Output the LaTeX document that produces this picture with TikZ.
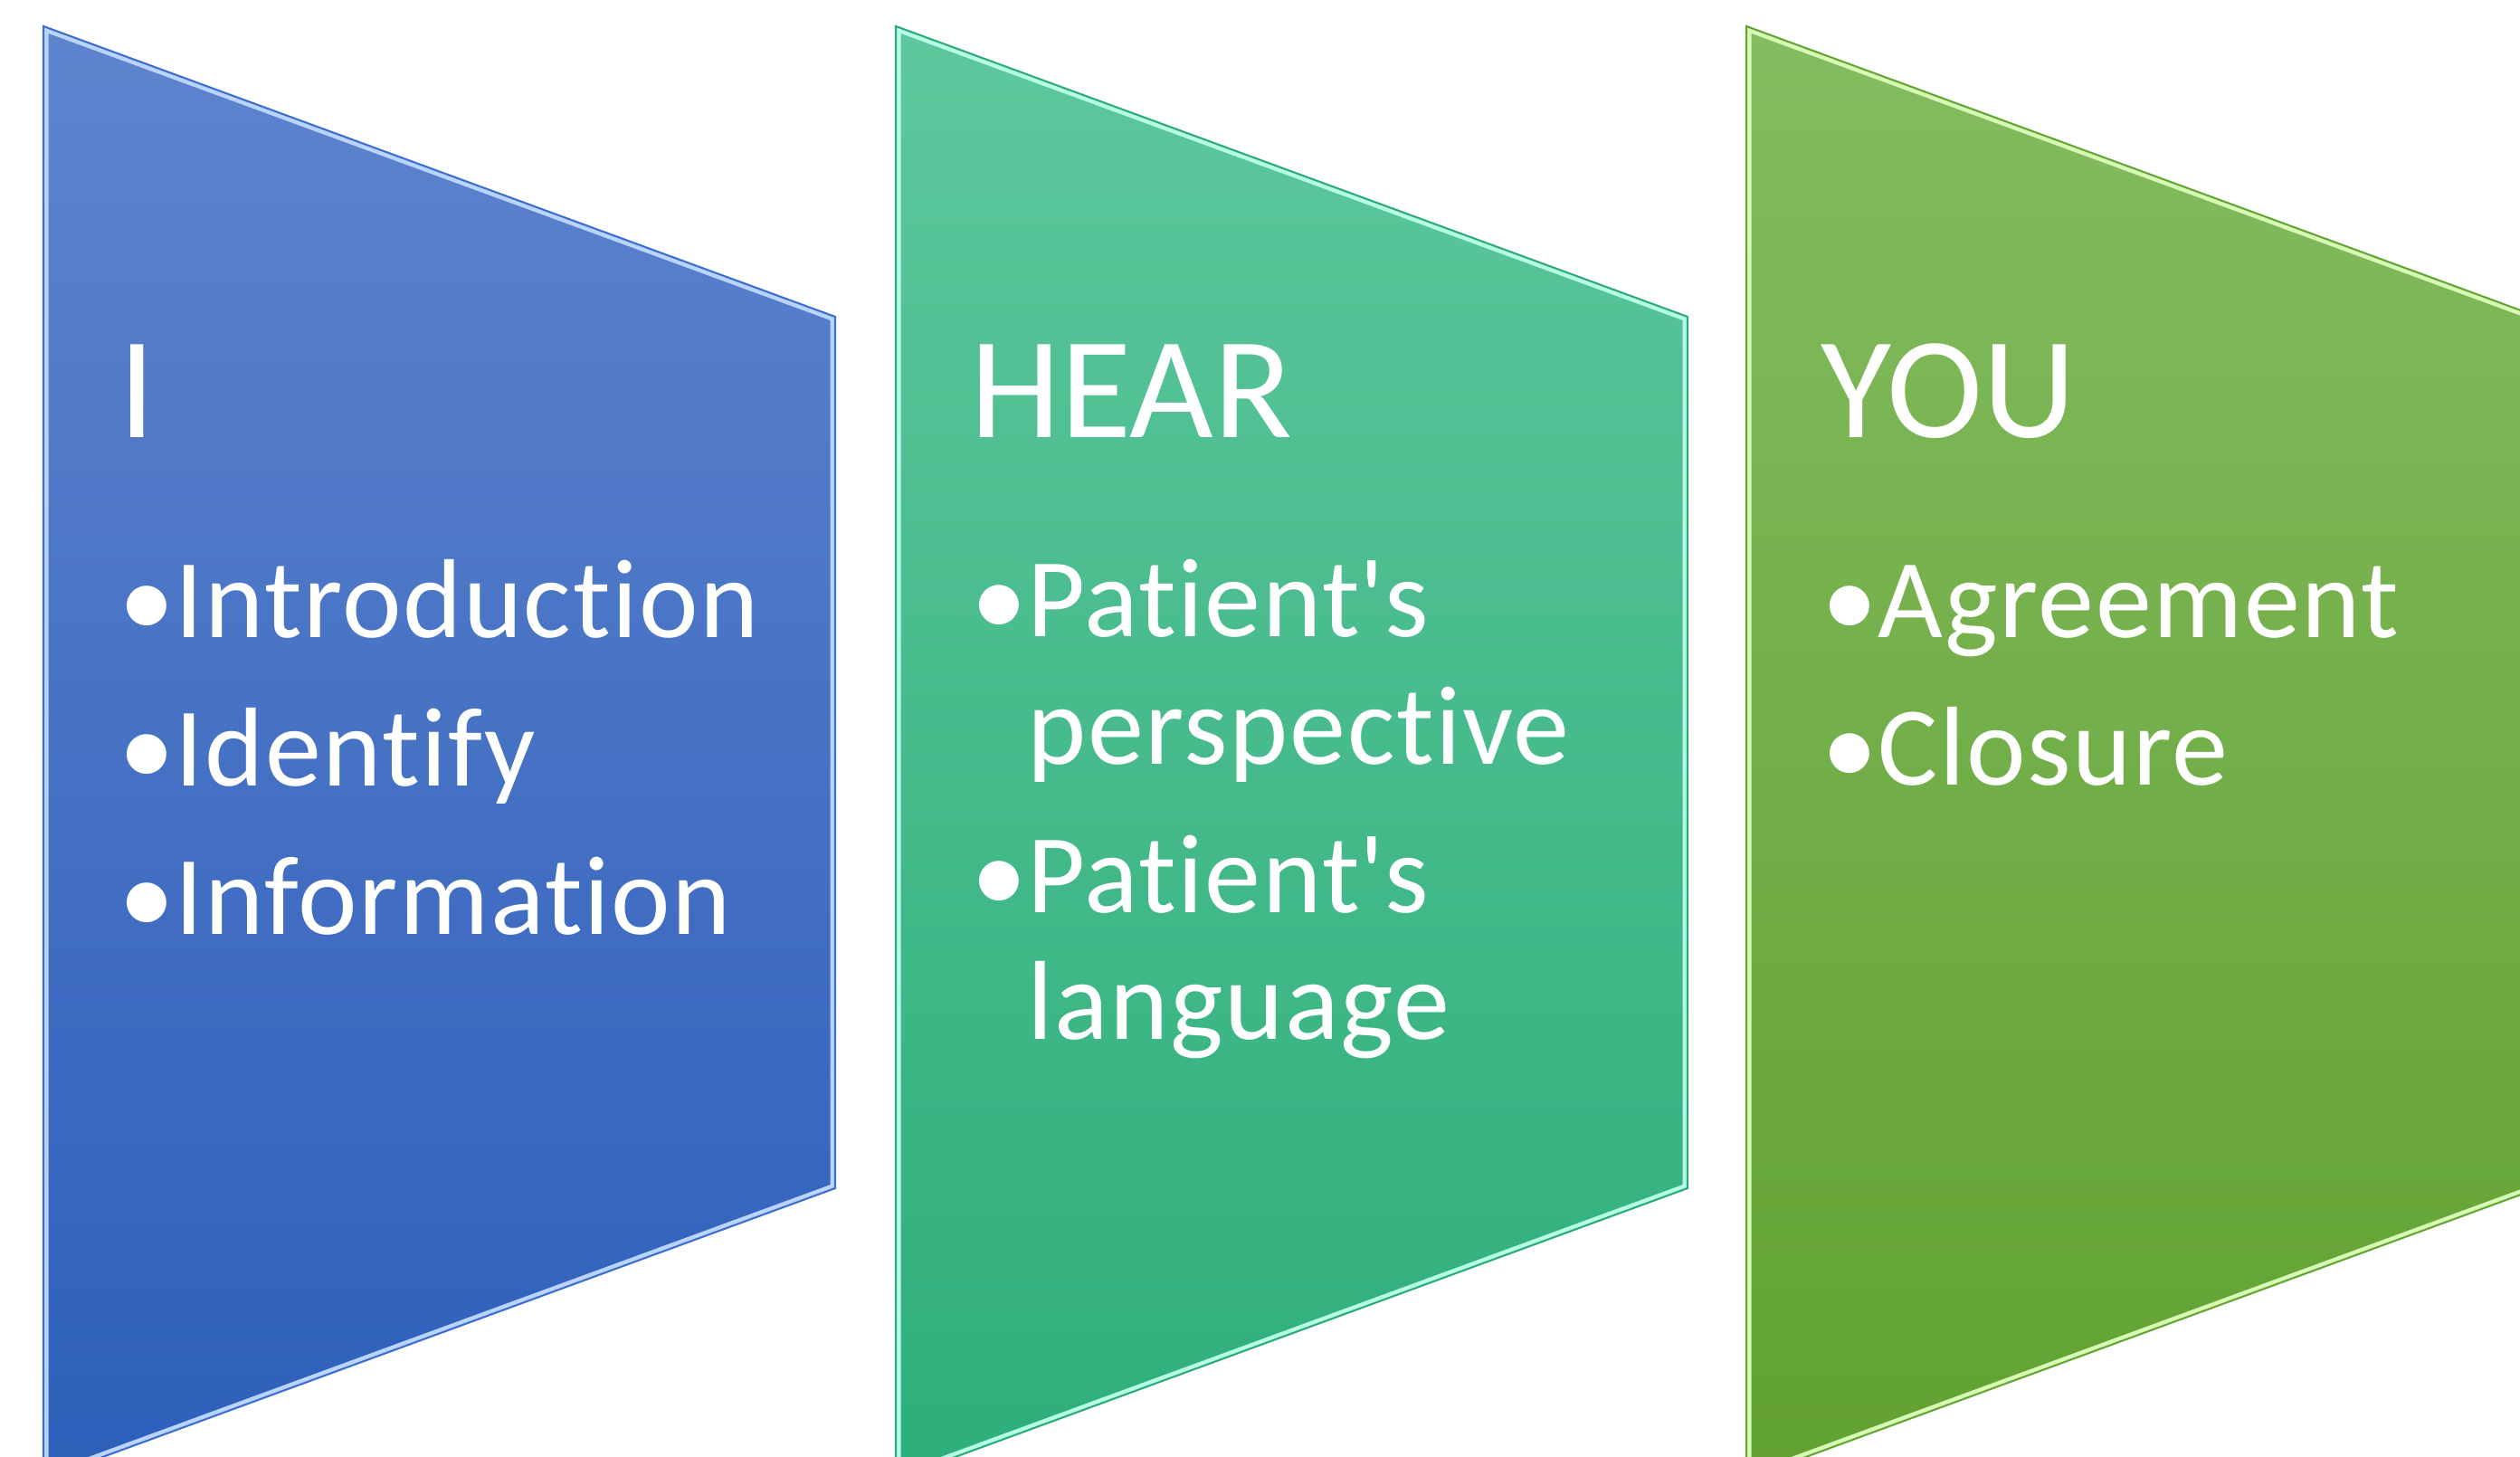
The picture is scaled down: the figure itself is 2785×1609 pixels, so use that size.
\documentclass[tikz,border=0pt]{standalone}
\usepackage{fontspec}
\setmainfont{Carlito}[Ligatures={NoCommon,NoContextual}]
\usepackage{tikz}

\definecolor{blueTop}{RGB}{95,132,206}
\definecolor{blueBot}{RGB}{45,95,186}
\definecolor{blueHi}{RGB}{185,212,255}
\definecolor{blueLine}{RGB}{60,110,205}
\definecolor{tealTop}{RGB}{94,199,157}
\definecolor{tealBot}{RGB}{46,174,123}
\definecolor{tealHi}{RGB}{180,255,230}
\definecolor{tealLine}{RGB}{45,170,120}
\definecolor{greenTop}{RGB}{132,188,97}
\definecolor{greenBot}{RGB}{97,161,49}
\definecolor{greenHi}{RGB}{215,250,180}
\definecolor{greenLine}{RGB}{100,165,55}

\newcommand{\dotitem}[1]{\makebox[0.62cm][l]{\textbullet}#1}

\begin{document}
\begin{tikzpicture}[x=0.01cm, y=-0.01cm,
    panel/.style={line width=0.6pt},
    glow/.style={line width=0.11cm, line join=miter},
    title/.style={anchor=base west, inner sep=0pt, text=white, font=\fontsize{45.5}{50}\selectfont},
    item/.style={anchor=base west, inner sep=0pt, text=white,
        font=\fontsize{35.3}{40}\selectfont\addfontfeatures{LetterSpace=1.3}}]
    \useasboundingbox (0,0) rectangle (2785,1609);
    \clip (0,0) rectangle (2785,1609);

    % corners of the three panels
    \coordinate (a1) at (48,29);   \coordinate (a2) at (923,350);
    \coordinate (a3) at (923,1313); \coordinate (a4) at (48,1634);
    \coordinate (b1) at (990,29);  \coordinate (b2) at (1865,350);
    \coordinate (b3) at (1865,1313); \coordinate (b4) at (990,1634);
    \coordinate (c1) at (1930,29); \coordinate (c2) at (2805,350);
    \coordinate (c3) at (2805,1313); \coordinate (c4) at (1930,1634);

    \shade[top color=blueTop, bottom color=blueBot,
        path picture={\draw[glow, blueHi] (a1) -- (a2) -- (a3) -- (a4) -- cycle;}]
        (a1) -- (a2) -- (a3) -- (a4) -- cycle;
    \draw[panel, blueLine] (a1) -- (a2) -- (a3) -- (a4) -- cycle;

    \shade[top color=tealTop, bottom color=tealBot,
        path picture={\draw[glow, tealHi] (b1) -- (b2) -- (b3) -- (b4) -- cycle;}]
        (b1) -- (b2) -- (b3) -- (b4) -- cycle;
    \draw[panel, tealLine] (b1) -- (b2) -- (b3) -- (b4) -- cycle;

    \shade[top color=greenTop, bottom color=greenBot,
        path picture={\draw[glow, greenHi] (c1) -- (c2) -- (c3) -- (c4) -- cycle;}]
        (c1) -- (c2) -- (c3) -- (c4) -- cycle;
    \draw[panel, greenLine] (c1) -- (c2) -- (c3) -- (c4) -- cycle;

    % I
    \node[title] (titleI) at (131,483) {I};
    \node[item] (intro) at (131,704) {\dotitem{Introduction}};
    \node[item] (ident) at (131,868) {\dotitem{Identify}};
    \node[item] (info) at (131,1032) {\dotitem{Information}};

    % HEAR
    \node[title] (titleHear) at (1072,483) {HEAR};
    \node[item] (persp) at (1073,703) {\dotitem{Patient\textquotesingle s}};
    \node[item] (perspb) at (1135,844) {perspective};
    \node[item] (lang) at (1073,1008) {\dotitem{Patient\textquotesingle s}};
    \node[item] (langb) at (1135,1148) {language};

    % YOU
    \node[title] (titleYou) at (2012,483) {YOU};
    \node[item] (agree) at (2013,704) {\dotitem{Agreement}};
    \node[item] (close) at (2013,867) {\dotitem{Closure}};
\end{tikzpicture}
\end{document}
